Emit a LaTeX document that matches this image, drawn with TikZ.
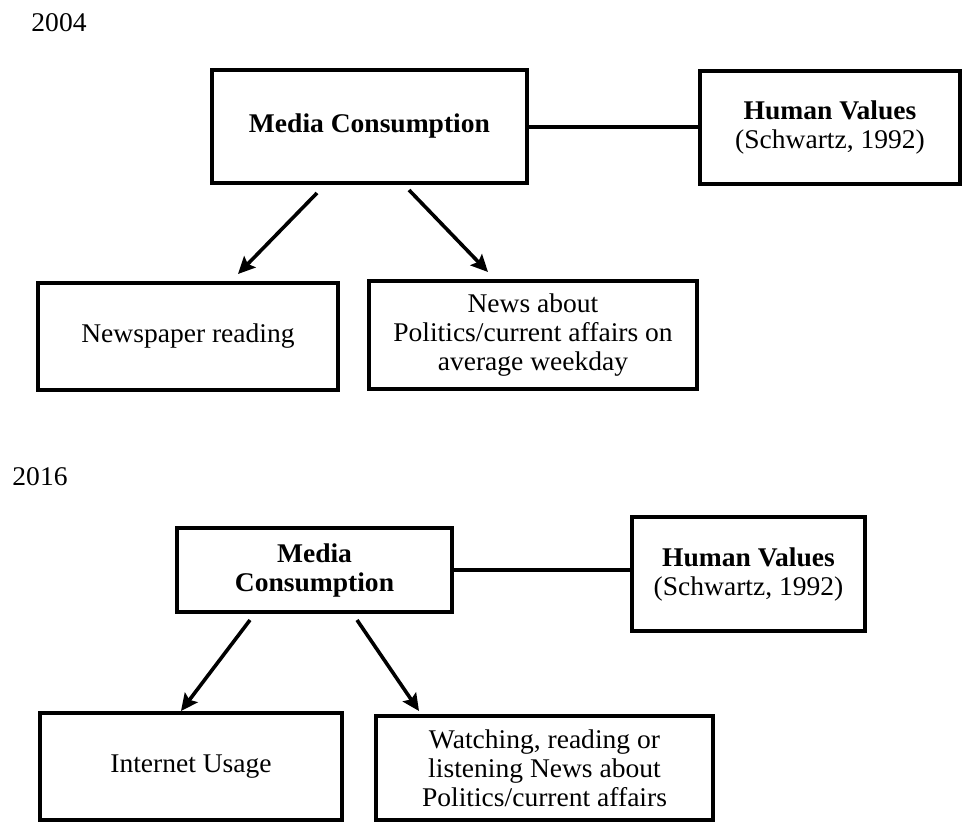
\documentclass[tikz,border=0pt]{standalone}
\usepackage{fontspec}
\setmainfont{Liberation Serif}[FakeStretch=1.02]
\usetikzlibrary{arrows.meta}
\tikzset{
  box/.style={draw=black, line width=4pt, rectangle, align=center, inner sep=0pt,
    font=\fontsize{27}{29}\selectfont},
  link/.style={draw=black, line width=4pt},
  arr/.style={draw=black, line width=3.6pt, -{Stealth[length=17pt,width=16pt,inset=3pt]}},
  yearlbl/.style={font=\fontsize{27}{29}\selectfont, inner sep=0pt}
}
\begin{document}
\begin{tikzpicture}[x=1pt,y=-1pt]
\useasboundingbox (0,0) rectangle (963,828);
% 2004
\node[yearlbl] (y1) at (59,23) {2004};
\node[box, minimum width=315pt, minimum height=113pt] (mc1) at (369.5,126.5) {\textbf{Media Consumption}};
\node[box, minimum width=260pt, minimum height=113pt] (hv1) at (830,127.5) {\textbf{Human Values}\\(Schwartz, 1992)};
\node[box, minimum width=300pt, minimum height=107pt] (np1) at (188,336.5) {Newspaper reading};
\node[box, minimum width=328pt, minimum height=108pt] (nw1) at (533,335) {News about\\Politics/current affairs on\\average weekday};
\draw[link] (mc1.east) -- (mc1.east -| hv1.west);
\coordinate (a1s) at (317,193);
\coordinate (a1e) at (238,274);
\coordinate (a2s) at (409,190);
\coordinate (a2e) at (488,272);
\draw[arr] (a1s) -- (a1e);
\draw[arr] (a2s) -- (a2e);
% 2016
\node[yearlbl] (y2) at (40,477) {2016};
\node[box, minimum width=275pt, minimum height=84pt] (mc2) at (314.5,570) {\textbf{Media}\\\textbf{Consumption}};
\node[box, minimum width=233pt, minimum height=114pt] (hv2) at (748.5,574) {\textbf{Human Values}\\(Schwartz, 1992)};
\node[box, minimum width=302pt, minimum height=107pt] (iu2) at (191,766.5) {Internet Usage};
\node[box, minimum width=337pt, minimum height=104pt] (wt2) at (544.5,768) {Watching, reading or\\listening News about\\Politics/current affairs};
\draw[link] (mc2.east) -- (mc2.east -| hv2.west);
\coordinate (b1s) at (250,620);
\coordinate (b1e) at (181,711);
\coordinate (b2s) at (357,620);
\coordinate (b2e) at (419,711);
\draw[arr] (b1s) -- (b1e);
\draw[arr] (b2s) -- (b2e);
\end{tikzpicture}
\end{document}
